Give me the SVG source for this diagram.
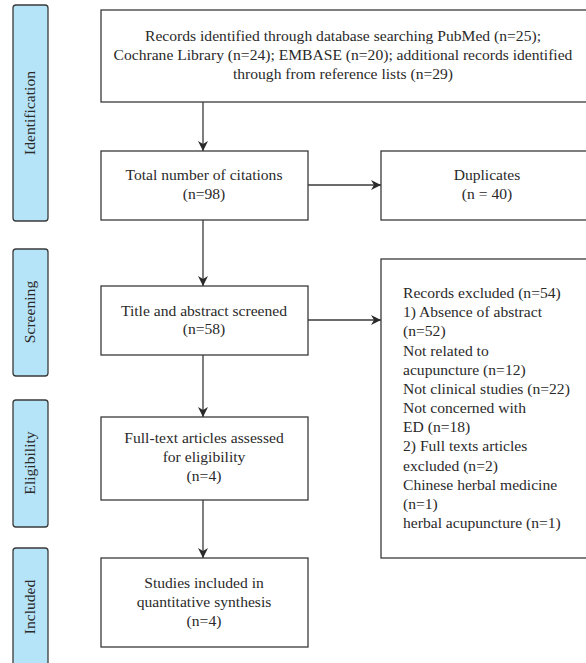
<svg xmlns="http://www.w3.org/2000/svg" width="586" height="663" viewBox="0 0 586 663">
<defs>
<style>
.box{fill:#fff;stroke:#3a3a3a;stroke-width:1.3}
.side{fill:#b5e4f8;stroke:#3a3a3a;stroke-width:1.3}
.t{font-family:"Liberation Serif","Times New Roman",serif;font-size:15.6px;fill:#2a2a2a}
.c{text-anchor:middle}
.edge{stroke:#3a3a3a;stroke-width:1.3;fill:none}
</style>
<marker id="ah" viewBox="0 0 10 10" refX="10" refY="5" markerWidth="10" markerHeight="10" markerUnits="userSpaceOnUse" orient="auto">
<path d="M0,0 L10,5 L0,10 L3,5 Z" fill="#2a2a2a"/>
</marker>
</defs>
<g id="side-identification"><rect class="side" x="13" y="5" width="35" height="216" rx="3"/><text class="t c" transform="translate(35,113) rotate(-90)">Identification</text></g>
<g id="side-screening"><rect class="side" x="13" y="249" width="35" height="127" rx="3"/><text class="t c" transform="translate(35,312) rotate(-90)">Screening</text></g>
<g id="side-eligibility"><rect class="side" x="13" y="400" width="35" height="127" rx="3"/><text class="t c" transform="translate(35,463) rotate(-90)">Eligibility</text></g>
<g id="side-included"><rect class="side" x="13" y="548" width="35" height="125" rx="3"/><text class="t c" transform="translate(35,607) rotate(-90)">Included</text></g>

<g id="records"><rect class="box" x="101" y="10" width="490" height="92"/>
<text class="t c" x="343" y="41">Records identified through database searching PubMed (n=25);</text>
<text class="t c" x="343" y="60">Cochrane Library (n=24); EMBASE (n=20); additional records identified</text>
<text class="t c" x="343" y="79">through from reference lists (n=29)</text></g>

<g id="total"><rect class="box" x="101" y="151" width="207" height="69"/>
<text class="t c" x="204" y="180">Total number of citations</text>
<text class="t c" x="204" y="199">(n=98)</text></g>

<g id="duplicates"><rect class="box" x="381" y="151" width="210" height="69"/>
<text class="t c" x="487" y="180">Duplicates</text>
<text class="t c" x="487" y="199">(n = 40)</text></g>

<g id="title"><rect class="box" x="101" y="286" width="207" height="69"/>
<text class="t c" x="204" y="316">Title and abstract screened</text>
<text class="t c" x="204" y="334">(n=58)</text></g>

<g id="excluded"><rect class="box" x="381" y="259" width="210" height="299"/>
<text class="t" x="403" y="298">Records excluded (n=54)</text>
<text class="t" x="403" y="317">1) Absence of abstract</text>
<text class="t" x="403" y="336">(n=52)</text>
<text class="t" x="403" y="356">Not related to</text>
<text class="t" x="403" y="375">acupuncture (n=12)</text>
<text class="t" x="403" y="394">Not clinical studies (n=22)</text>
<text class="t" x="403" y="413">Not concerned with</text>
<text class="t" x="403" y="432">ED (n=18)</text>
<text class="t" x="403" y="451">2) Full texts articles</text>
<text class="t" x="403" y="471">excluded (n=2)</text>
<text class="t" x="403" y="490">Chinese herbal medicine</text>
<text class="t" x="403" y="509">(n=1)</text>
<text class="t" x="403" y="528">herbal acupuncture (n=1)</text></g>

<g id="fulltext"><rect class="box" x="101" y="417" width="207" height="83"/>
<text class="t c" x="204" y="443">Full-text articles assessed</text>
<text class="t c" x="204" y="462">for eligibility</text>
<text class="t c" x="204" y="481">(n=4)</text></g>

<g id="studies"><rect class="box" x="101" y="558" width="207" height="89"/>
<text class="t c" x="204" y="588">Studies included in</text>
<text class="t c" x="204" y="607">quantitative synthesis</text>
<text class="t c" x="204" y="626">(n=4)</text></g>

<g id="connectors">
<line class="edge" x1="203" y1="102" x2="203" y2="151" marker-end="url(#ah)"/>
<line class="edge" x1="308" y1="185" x2="381" y2="185" marker-end="url(#ah)"/>
<line class="edge" x1="203" y1="220" x2="203" y2="286" marker-end="url(#ah)"/>
<line class="edge" x1="308" y1="320" x2="381" y2="320" marker-end="url(#ah)"/>
<line class="edge" x1="203" y1="355" x2="203" y2="417" marker-end="url(#ah)"/>
<line class="edge" x1="203" y1="500" x2="203" y2="558" marker-end="url(#ah)"/>
</g>
</svg>
